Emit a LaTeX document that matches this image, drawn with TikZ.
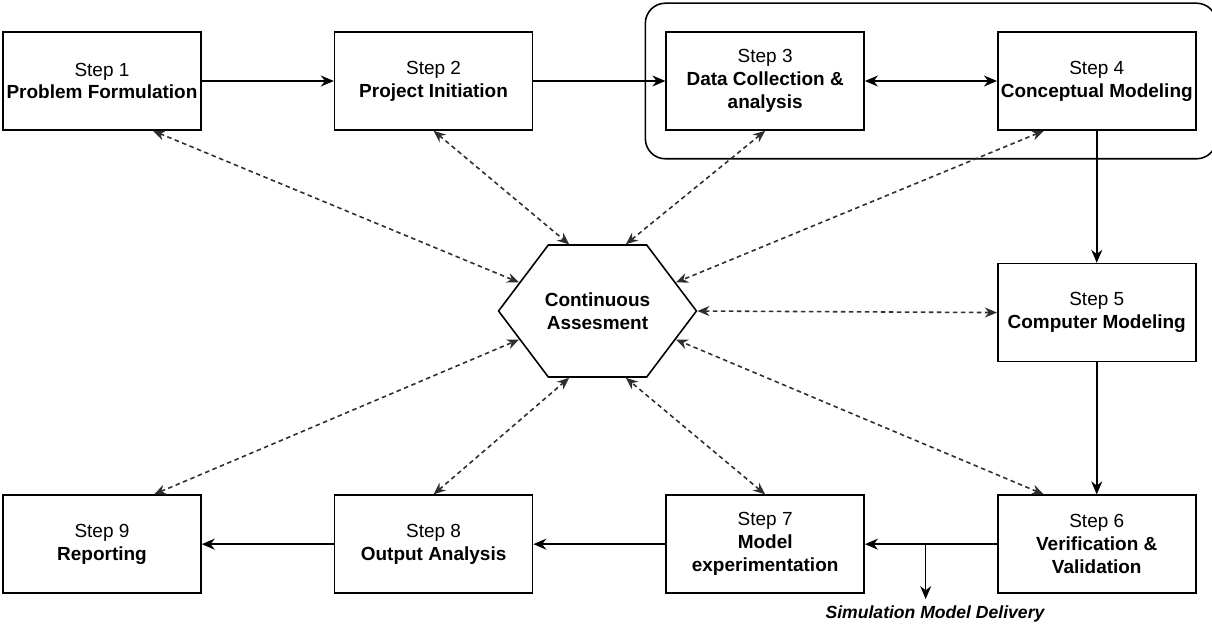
\documentclass[tikz,border=0pt]{standalone}
\usepackage{fontspec}
\setmainfont{Liberation Sans}
\usepackage{tikz}
\usetikzlibrary{arrows.meta,positioning,shapes.symbols,fit,calc}
\definecolor{DashGray}{HTML}{2E2E2E}
\tikzset{
  stepnode/.style={draw,line width=0.9pt,minimum width=3.96cm,minimum height=1.96cm,inner sep=1pt,align=center,font=\fontsize{10.8}{13}\selectfont},
  hexnode/.style={draw,line width=0.9pt,signal,signal to=east and west,signal pointer angle=106,minimum height=2.64cm,inner xsep=-0.07cm,inner ysep=1pt,align=center,font=\fontsize{10.8}{13}\selectfont\bfseries},
  groupbox/.style={draw,line width=0.9pt,rounded corners=4mm,inner xsep=4mm,inner ysep=5.6mm},
  arrow/.style={-{Stealth[length=2.6mm,width=2.2mm]},line width=0.9pt},
  twoarrow/.style={{Stealth[length=2.6mm,width=2.2mm]}-{Stealth[length=2.6mm,width=2.2mm]},line width=0.9pt},
  assessarrow/.style={{Stealth[length=2.4mm,width=2mm]}-{Stealth[length=2.4mm,width=2mm]},line width=0.9pt,draw=DashGray,dash pattern=on 0.9mm off 0.7mm},
  delivery/.style={font=\fontsize{10}{12}\selectfont\bfseries\itshape}
}

\begin{document}
\begin{tikzpicture}[node distance=2.64cm and 2.64cm]
\useasboundingbox (0,0) rectangle (24.24,-12.5);
\node[stepnode] (s1) at (2.04,-1.62) {Step 1\\\textbf{Problem Formulation}};
\node[stepnode,right=of s1] (s2) {Step 2\\\textbf{Project Initiation}};
\node[stepnode,right=of s2] (s3) {Step 3\\\textbf{Data Collection \&}\\\textbf{analysis}};
\node[stepnode,right=of s3] (s4) {Step 4\\\textbf{Conceptual Modeling}};
\node[stepnode,below=of s4] (s5) {Step 5\\\textbf{Computer Modeling}};
\node[stepnode,below=of s5] (s6) {Step 6\\\textbf{Verification \&}\\\textbf{Validation}};
\node[stepnode,left=of s6] (s7) {Step 7\\\textbf{Model}\\\textbf{experimentation}};
\node[stepnode,left=of s7] (s8) {Step 8\\\textbf{Output Analysis}};
\node[stepnode,left=of s8] (s9) {Step 9\\\textbf{Reporting}};
\node[hexnode] (hex) at (11.95,-6.22) {Continuous\\Assesment};
\node[groupbox,fit=(s3)(s4)] (group) {};
\node[delivery,anchor=base] (deliv) at (18.7,-12.36) {Simulation Model Delivery};
\coordinate (split) at ($(s7.east)!0.46!(s6.west)$);
% main flow
\draw[arrow] (s1) -- (s2);
\draw[arrow] (s2) -- (s3);
\draw[twoarrow] (s3) -- (s4);
\draw[arrow] (s4) -- (s5);
\draw[arrow] (s5) -- (s6);
\draw[arrow] (s6) -- (s7);
\draw[arrow] (s7) -- (s8);
\draw[arrow] (s8) -- (s9);
\draw[arrow] (split) -- (split |- deliv.north);
% assessment links
\draw[assessarrow] ([xshift=1.02cm]s1.south) -- (hex.160);
\draw[assessarrow] (s2.south) -- (hex.113);
\draw[assessarrow] (s3.south) -- (hex.67);
\draw[assessarrow] ([xshift=-1.06cm]s4.south) -- (hex.20);
\draw[assessarrow] (s5.west) -- (hex.east);
\draw[assessarrow] ([xshift=-1.06cm]s6.north) -- (hex.-20);
\draw[assessarrow] (s7.north) -- (hex.-67);
\draw[assessarrow] (s8.north) -- (hex.-113);
\draw[assessarrow] ([xshift=1.04cm]s9.north) -- (hex.-160);
\end{tikzpicture}
\end{document}
